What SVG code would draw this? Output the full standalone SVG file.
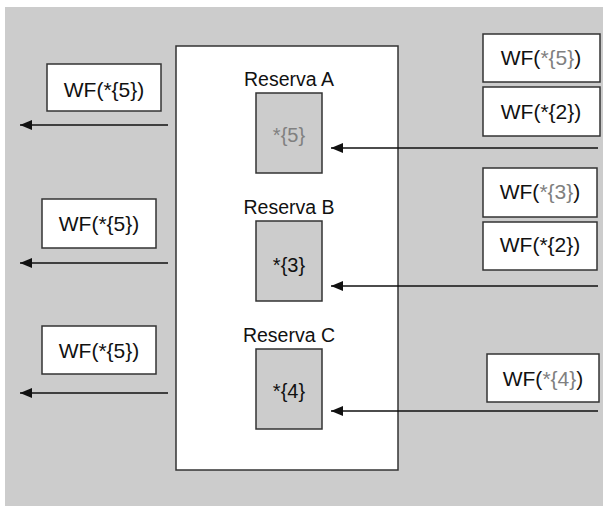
<svg xmlns="http://www.w3.org/2000/svg" width="603" height="506" viewBox="0 0 603 506">
  <style>
    .box { fill: #ffffff; stroke: #333333; stroke-width: 1.5; }
    .slot { fill: #cccccc; stroke: #333333; stroke-width: 1.5; }
    .t { font-family: "Liberation Sans", Arial, sans-serif; font-size: 21px; fill: #111111; text-anchor: middle; }
    .s { font-family: "Liberation Sans", Arial, sans-serif; font-size: 20px; fill: #111111; text-anchor: middle; }
    .lbl { font-family: "Liberation Sans", Arial, sans-serif; font-size: 19.5px; fill: #111111; text-anchor: middle; }
    .dim { fill: #808080; }
    .wire { stroke: #111111; stroke-width: 1.4; fill: none; marker-end: url(#head); }
  </style>
  <defs>
    <marker id="head" viewBox="0 0 12 10" refX="12" refY="5" markerWidth="12" markerHeight="10" markerUnits="userSpaceOnUse" orient="auto">
      <path d="M0,0 L12,5 L0,10 Z" fill="#111111"/>
    </marker>
  </defs>

  <!-- backdrop -->
  <rect x="5" y="7" width="598" height="499" fill="#cccccc"/>

  <!-- reservation store -->
  <g id="store">
    <rect class="box" x="176" y="46" width="222" height="424"/>
  </g>

  <g id="reserva-a">
    <text class="lbl" x="289" y="86">Reserva A</text>
    <rect class="slot" x="256" y="93" width="66" height="80"/>
    <text class="s dim" x="289" y="142">*{5}</text>
  </g>
  <g id="reserva-b">
    <text class="lbl" x="289" y="214">Reserva B</text>
    <rect class="slot" x="256" y="221" width="66" height="80"/>
    <text class="s" x="289" y="272">*{3}</text>
  </g>
  <g id="reserva-c">
    <text class="lbl" x="289" y="342">Reserva C</text>
    <rect class="slot" x="256" y="349" width="66" height="80"/>
    <text class="s" x="289" y="398">*{4}</text>
  </g>

  <!-- incoming requests -->
  <g id="in-a1">
    <rect class="box" x="483" y="34" width="117" height="48"/>
    <text class="t" x="541" y="65">WF(<tspan class="dim">*{5}</tspan>)</text>
  </g>
  <g id="in-a2">
    <rect class="box" x="483" y="87" width="117" height="49"/>
    <text class="t" x="541" y="119">WF(*{2})</text>
  </g>
  <g id="in-b1">
    <rect class="box" x="483" y="168" width="114" height="49"/>
    <text class="t" x="540" y="199">WF(<tspan class="dim">*{3}</tspan>)</text>
  </g>
  <g id="in-b2">
    <rect class="box" x="483" y="222" width="114" height="48"/>
    <text class="t" x="540" y="252">WF(*{2})</text>
  </g>
  <g id="in-c1">
    <rect class="box" x="487" y="354" width="112" height="48"/>
    <text class="t" x="543" y="386">WF(<tspan class="dim">*{4}</tspan>)</text>
  </g>

  <!-- outgoing results -->
  <g id="out-a">
    <rect class="box" x="47" y="64" width="114" height="47"/>
    <text class="t" x="104" y="97">WF(*{5})</text>
  </g>
  <g id="out-b">
    <rect class="box" x="42" y="199" width="114" height="49"/>
    <text class="t" x="99" y="231">WF(*{5})</text>
  </g>
  <g id="out-c">
    <rect class="box" x="42" y="326" width="114" height="48"/>
    <text class="t" x="99" y="358">WF(*{5})</text>
  </g>

  <!-- connectors -->
  <g id="connectors">
    <line class="wire" x1="598" y1="148" x2="331" y2="148"/>
    <line class="wire" x1="598" y1="286" x2="331" y2="286"/>
    <line class="wire" x1="598" y1="411" x2="331" y2="411"/>
    <line class="wire" x1="168" y1="125" x2="20" y2="125"/>
    <line class="wire" x1="168" y1="263" x2="20" y2="263"/>
    <line class="wire" x1="168" y1="393" x2="20" y2="393"/>
  </g>
</svg>
